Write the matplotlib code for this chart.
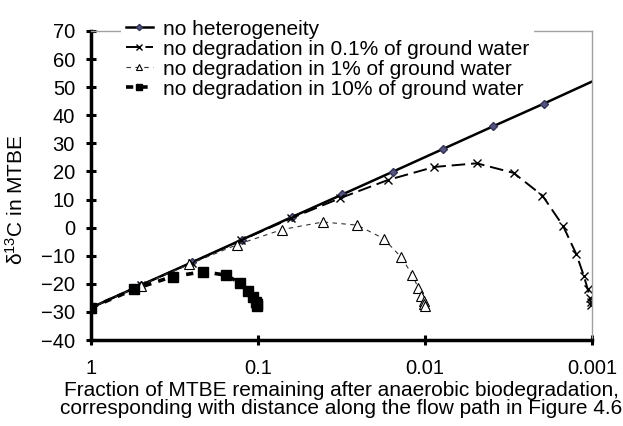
import numpy as np
import matplotlib
matplotlib.use('Agg')
import matplotlib.pyplot as plt
from matplotlib.ticker import NullLocator

plt.rcParams['font.family'] = ['Liberation Sans', 'DejaVu Sans']
plt.rcParams['mathtext.default'] = 'regular'

# Fraction of MTBE remaining (x) and delta13C (y) for each scenario
frac_none = [1, 0.5, 0.25, 0.125, 0.0625, 0.0313, 0.0156, 0.0078, 0.0039, 0.00195, 0.001]
d13c_none = [-28.5, -20.4, -12.4, -4.3, 3.8, 11.8, 19.9, 28.0, 36.1, 44.1, 52.0]

frac_01 = [1, 0.5, 0.25, 0.126, 0.0635, 0.0322, 0.0166, 0.0088, 0.0049, 0.00295,
           0.00198, 0.00149, 0.00124, 0.00112, 0.00106, 0.00103, 0.00102, 0.00101]
d13c_01 = [-28.5, -20.4, -12.5, -4.5, 3.3, 10.5, 17.0, 21.6, 22.9, 19.5,
           11.4, 0.6, -9.5, -17.1, -22.0, -24.9, -26.6, -27.5]

frac_1 = [1, 0.505, 0.2575, 0.134, 0.0719, 0.0409, 0.0255, 0.0177, 0.0139, 0.0119,
          0.011, 0.0105, 0.0102, 0.0101, 0.01006]
d13c_1 = [-28.5, -20.6, -13.0, -6.1, -0.7, 2.0, 0.9, -3.9, -10.5, -16.8,
          -21.4, -24.4, -26.2, -27.3, -27.9]

frac_10 = [1, 0.55, 0.325, 0.2125, 0.156, 0.128, 0.114, 0.107, 0.1035, 0.1018, 0.1009]
d13c_10 = [-28.5, -21.9, -17.4, -15.7, -16.9, -19.7, -22.5, -24.8, -26.3, -27.2, -27.8]

x_ticks = [1, 0.1, 0.01, 0.001]
x_tick_labels = ['1', '0.1', '0.01', '0.001']

fig = plt.figure(figsize=(6.23, 4.26), dpi=100)
ax = fig.add_axes([91/623, 1 - 340/426, (592 - 91)/623, (340 - 31)/426])

# last point of the reference line has no marker (line just runs to the border)
ax.plot(frac_none, d13c_none, color='black', lw=1.8, marker='D', ms=4.5,
        mfc='#55557f', mec='#333355', markevery=list(range(len(frac_none) - 1)),
        label='no heterogeneity')
ax.plot(frac_01, d13c_01, color='black', lw=1.4, dashes=(7, 3), marker='x', ms=6,
        mew=1.0, label='no degradation in 0.1% of ground water')
ax.plot(frac_1, d13c_1, color='#333333', lw=0.8, dashes=(4, 4), marker='^', ms=6.5,
        mfc='white', mec='black', mew=0.8, label='no degradation in 1% of ground water')
ax.plot(frac_10, d13c_10, color='black', lw=2.6, dashes=(2, 2), marker='s', ms=6.5,
        mfc='black', mec='black', label='no degradation in 10% of ground water')

ax.set_xscale('log')
ax.set_xlim(1, 0.001)
ax.set_xticks(x_ticks)
ax.set_xticklabels(x_tick_labels)
ax.xaxis.set_minor_locator(NullLocator())
ax.set_ylim(-40, 70)
ax.set_yticks(np.arange(-40, 71, 10))

for side in ['left', 'bottom']:
    ax.spines[side].set_linewidth(2.5)
    ax.spines[side].set_color('black')
for side in ['top', 'right']:
    ax.spines[side].set_linewidth(1.0)
    ax.spines[side].set_color('#a0a0a0')

ax.tick_params(axis='both', direction='inout', length=7, width=2.2, labelsize=14.5)
ax.tick_params(axis='y', pad=8)
ax.tick_params(axis='x', pad=10)

ax.set_xlabel('Fraction of MTBE remaining after anaerobic biodegradation,\n'
              'corresponding with distance along the flow path in Figure 4.6',
              fontsize=15, linespacing=0.95, labelpad=2)
ax.set_ylabel(r'$\delta^{13}$C in MTBE', fontsize=15)
ax.yaxis.set_label_coords(-0.128, 0.453)

leg = ax.legend(loc='upper left', bbox_to_anchor=(111/623, 1 - 5/426),
                bbox_transform=fig.transFigure, fontsize=15, frameon=True,
                fancybox=False, edgecolor='none', facecolor='white', framealpha=1,
                handlelength=1.3, handletextpad=0.5, labelspacing=0.05,
                borderpad=0.2, numpoints=1, markerscale=0.7)

fig.savefig('out.png', dpi=100)
